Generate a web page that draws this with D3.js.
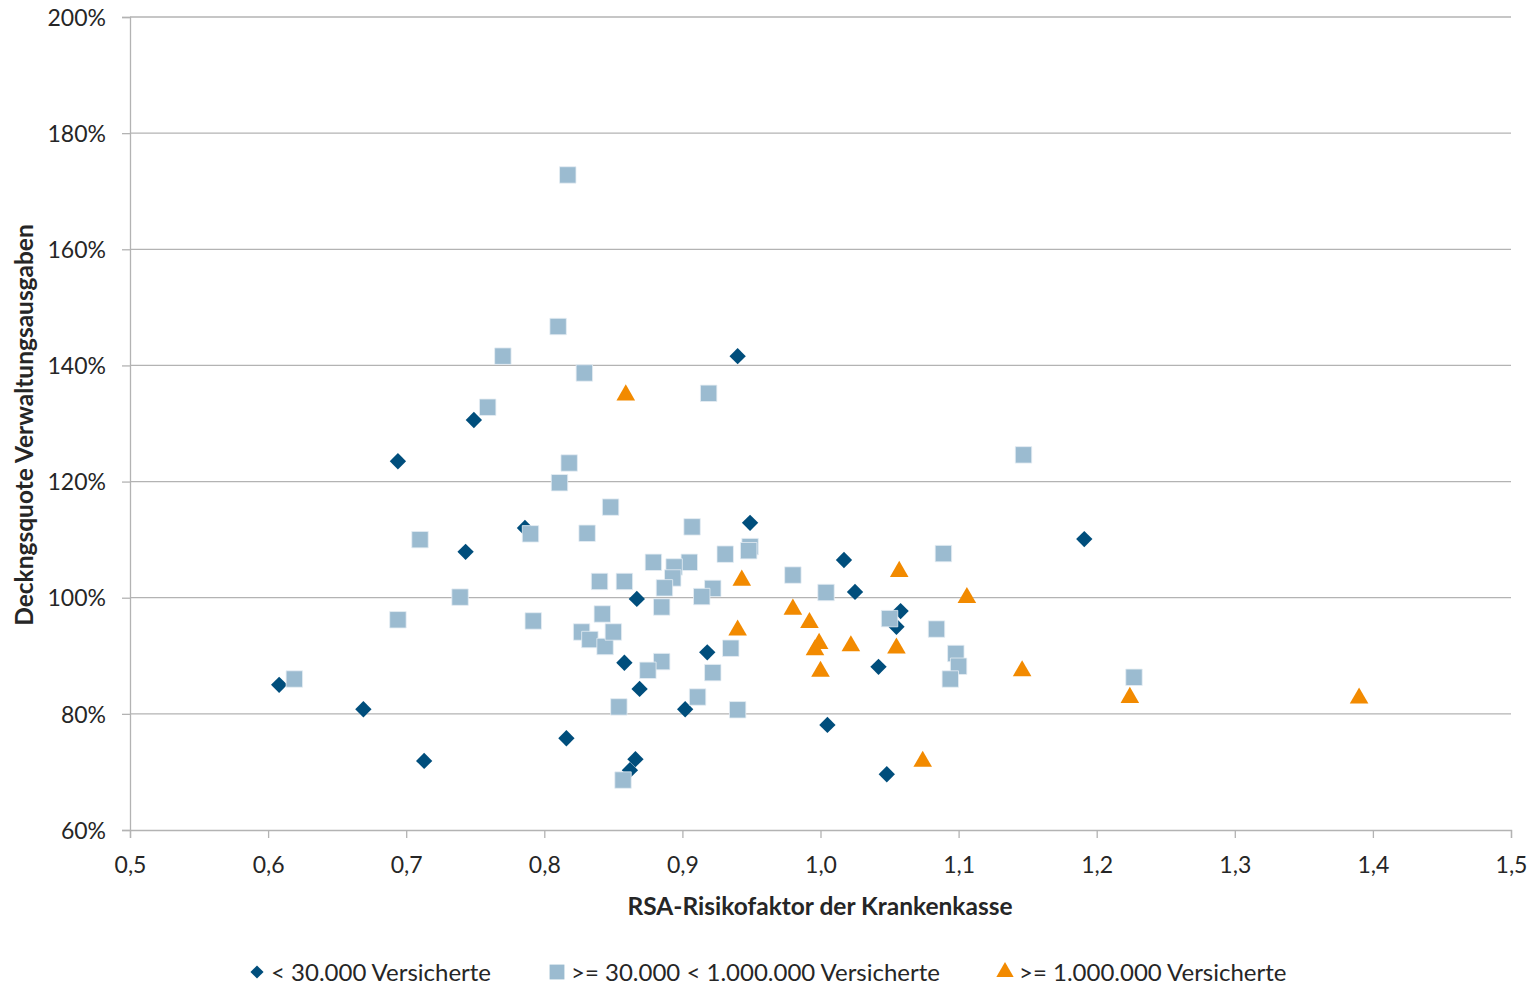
<!DOCTYPE html>
<html>
<head>
<meta charset="utf-8">
<script src="https://cdn.jsdelivr.net/npm/d3@7"></script>
<style>
  body { margin: 0; background: #fff; }
  text { font-family: Lato, "Open Sans", sans-serif; fill: #262626; }
</style>
</head>
<body>
<div id="chart"></div>
<script>
// series: < 30.000 Versicherte (dark diamonds)
const smallX = [0.608, 0.669, 0.713, 0.694, 0.749, 0.743, 0.786, 0.816, 0.858, 0.867, 0.869, 0.866, 0.862,
  0.902, 0.918, 0.940, 0.949, 1.017, 1.025, 1.042, 1.005, 1.048, 1.058, 1.055, 1.191];
const smallY = [85.0, 80.8, 71.9, 123.5, 130.6, 107.9, 112.0, 75.8, 88.8, 99.8, 84.3, 72.2, 70.3,
  80.8, 90.6, 141.6, 112.9, 106.5, 101.0, 88.1, 78.1, 69.6, 97.7, 95.0, 110.1];

// series: >= 30.000 < 1.000.000 Versicherte (light squares)
const midX = [0.619, 0.694, 0.710, 0.739, 0.759, 0.770, 0.790, 0.792, 0.810, 0.817, 0.829, 0.811, 0.818,
  0.848, 0.831, 0.919, 1.147, 0.907, 0.931, 0.949, 0.948, 0.879, 0.905, 0.894, 0.893, 0.887, 0.840,
  0.858, 0.922, 0.914, 0.885, 0.842, 0.827, 0.833, 0.844, 0.850, 0.935, 0.885, 0.875, 0.922, 0.911,
  0.854, 0.940, 0.857, 0.980, 1.004, 1.089, 1.050, 1.084, 1.098, 1.100, 1.094, 1.227];
const midY = [86.0, 96.2, 110.0, 100.1, 132.8, 141.6, 111.0, 96.0, 146.7, 172.8, 138.7, 119.8, 123.2,
  115.6, 111.1, 135.2, 124.6, 112.2, 107.5, 108.8, 108.1, 106.1, 106.1, 105.3, 103.4, 101.7, 102.8,
  102.8, 101.6, 100.2, 98.4, 97.2, 94.1, 92.8, 91.6, 94.1, 91.3, 89.0, 87.5, 87.1, 82.9,
  81.2, 80.7, 68.6, 103.9, 100.9, 107.6, 96.4, 94.6, 90.4, 88.2, 86.0, 86.3];

// series: >= 1.000.000 Versicherte (orange triangles)
const largeX = [0.859, 0.943, 0.940, 0.980, 1.057, 1.106, 0.992, 0.999, 0.996, 1.022, 1.055, 1.000,
  1.146, 1.224, 1.074, 1.390];
const largeY = [134.9, 103.0, 94.4, 98.0, 104.5, 100.0, 95.7, 92.1, 91.0, 91.7, 91.3, 87.3,
  87.4, 82.8, 71.8, 82.7];

const xTicks = [0.5, 0.6, 0.7, 0.8, 0.9, 1.0, 1.1, 1.2, 1.3, 1.4, 1.5];
const yTicks = [60, 80, 100, 120, 140, 160, 180, 200];

const seriesNames = ["< 30.000 Versicherte", ">= 30.000 < 1.000.000 Versicherte", ">= 1.000.000 Versicherte"];
const seriesColors = ["#004e7c", "#9bbbd0", "#f28a00"];

const W = 1539, H = 989;
const plotL = 130, plotR = 1511, plotT = 17, plotB = 830;

const svg = d3.select("#chart").append("svg")
  .attr("width", W)
  .attr("height", H);

const x = d3.scaleLinear().domain([0.5, 1.5]).range([plotL, plotR]);
const y = d3.scaleLinear().domain([60, 200]).range([plotB, plotT]);

// gridlines
svg.append("g")
  .selectAll("line")
  .data(yTicks.filter(d => d > 60))
  .enter().append("line")
    .attr("x1", plotL).attr("x2", plotR)
    .attr("y1", d => y(d)).attr("y2", d => y(d))
    .attr("stroke", "#b3b3b3")
    .attr("stroke-width", 1.3);

const fmtX = d => d3.format(".1f")(d).replace(".", ",");

const xAxis = svg.append("g")
  .attr("transform", "translate(0," + plotB + ")")
  .call(d3.axisBottom(x).tickValues(xTicks).tickFormat(fmtX).tickSize(8).tickPadding(19));

const yAxis = svg.append("g")
  .attr("transform", "translate(" + plotL + ",0)")
  .call(d3.axisLeft(y).tickValues(yTicks).tickFormat(d => d + "%").tickSize(8).tickPadding(16));

[xAxis, yAxis].forEach(a => {
  a.select(".domain").attr("stroke", "#b3b3b3").attr("stroke-width", 1.3);
  a.selectAll(".tick line").attr("stroke", "#b3b3b3").attr("stroke-width", 1.3);
  a.selectAll(".tick text")
    .attr("fill", "#262626")
    .style("font-family", "Lato, 'Open Sans', sans-serif")
    .style("font-size", "23px");
});
yAxis.selectAll(".tick text").attr("dy", "0.36em");

// axis titles
svg.append("text")
  .attr("x", 820)
  .attr("y", 915)
  .attr("text-anchor", "middle")
  .style("font-size", "24.5px")
  .style("font-weight", "bold")
  .text("RSA-Risikofaktor der Krankenkasse");

svg.append("text")
  .attr("transform", "translate(33,425) rotate(-90)")
  .attr("text-anchor", "middle")
  .style("font-size", "24.5px")
  .style("font-weight", "bold")
  .text("Deckngsquote Verwaltungsausgaben");

// markers
const diamond = d3.symbol().type(d3.symbolDiamond2).size(170);
const square = d3.symbol().type(d3.symbolSquare).size(270);
const triangle = d3.symbol().type(d3.symbolTriangle).size(150);

const series = [
  { xs: smallX, ys: smallY, sym: diamond, color: seriesColors[0], stroke: "none" },
  { xs: midX, ys: midY, sym: square, color: seriesColors[1], stroke: "#e6eef4" },
  { xs: largeX, ys: largeY, sym: triangle, color: seriesColors[2], stroke: "none" }
];

series.forEach(s => {
  const pts = s.xs.map((v, i) => [v, s.ys[i]]);
  svg.append("g")
    .selectAll("path")
    .data(pts)
    .enter().append("path")
      .attr("d", s.sym)
      .attr("transform", d => "translate(" + x(d[0]) + "," + y(d[1]) + ")")
      .attr("fill", s.color)
      .attr("stroke", s.stroke)
      .attr("stroke-width", 0.8);
});

// legend
const legendX = [257, 557, 1005];
const legendY = 972;
const legendSyms = [
  d3.symbol().type(d3.symbolDiamond2).size(110),
  d3.symbol().type(d3.symbolSquare).size(220),
  d3.symbol().type(d3.symbolTriangle).size(130)
];
const legend = svg.append("g");
seriesNames.forEach((name, i) => {
  legend.append("path")
    .attr("d", legendSyms[i])
    .attr("transform", "translate(" + legendX[i] + "," + legendY + ")")
    .attr("fill", seriesColors[i]);
  legend.append("text")
    .attr("x", legendX[i] + 14)
    .attr("y", legendY)
    .attr("dy", "0.36em")
    .style("font-size", "24px")
    .text(name);
});
</script>
</body>
</html>
